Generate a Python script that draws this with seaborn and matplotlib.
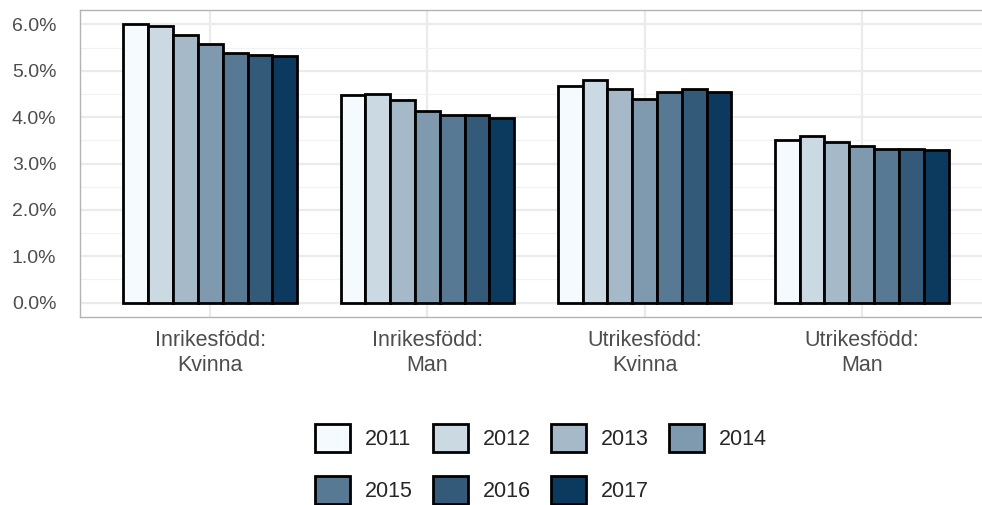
import matplotlib
matplotlib.use("Agg")
import matplotlib.pyplot as plt
import matplotlib.patches as mpatches
from matplotlib.ticker import MultipleLocator, FuncFormatter
import pandas as pd
import seaborn as sns

# === Data (andel, procent) ===
groups = ["Inrikesfödd:\nKvinna", "Inrikesfödd:\nMan", "Utrikesfödd:\nKvinna", "Utrikesfödd:\nMan"]
years = ["2011", "2012", "2013", "2014", "2015", "2016", "2017"]
inrikes_kvinna = [6.01, 5.97, 5.77, 5.58, 5.38, 5.33, 5.32]
inrikes_man = [4.48, 4.50, 4.37, 4.14, 4.05, 4.04, 3.98]
utrikes_kvinna = [4.67, 4.80, 4.60, 4.39, 4.55, 4.60, 4.54]
utrikes_man = [3.51, 3.60, 3.46, 3.38, 3.31, 3.31, 3.29]
colors = ["#F5FAFF", "#CBD9E2", "#A5B9C8", "#7F99AE", "#587994", "#335A79", "#0C3A5E"]

rows = []
for g, vals in zip(groups, [inrikes_kvinna, inrikes_man, utrikes_kvinna, utrikes_man]):
    for y, v in zip(years, vals):
        rows.append({"grupp": g, "ar": y, "andel": v})
df = pd.DataFrame(rows)

sns.set_style("white")
plt.rcParams["font.family"] = ["Liberation Sans", "DejaVu Sans"]

fig = plt.figure(figsize=(9.82, 5.05), dpi=100)
ax = fig.add_axes([80 / 982, (505 - 316.6) / 505, (992 - 80) / 982, (316.6 - 10) / 505])

sns.barplot(data=df, x="grupp", y="andel", hue="ar", order=groups, hue_order=years,
            palette=colors, saturation=1, edgecolor="black", linewidth=2, width=0.8,
            legend=False, ax=ax, zorder=3)

ax.set_xlim(-0.6, 3.6)
ax.set_ylim(-0.3, 6.31)
ax.yaxis.set_major_locator(MultipleLocator(1))
ax.yaxis.set_minor_locator(MultipleLocator(0.5))
ax.yaxis.set_major_formatter(FuncFormatter(lambda v, p: f"{v:.1f}%"))

# grid som i ggplot theme_minimal
ax.set_axisbelow(True)
ax.grid(True, which="major", axis="both", color="#EBEBEB", linewidth=1.6)
ax.grid(True, which="minor", axis="y", color="#F2F2F2", linewidth=0.9)
ax.tick_params(axis="both", which="major", length=6, width=1, color="#B3B3B3",
               labelcolor="#4D4D4D")
ax.tick_params(axis="y", which="major", pad=11, labelsize=14)
ax.tick_params(axis="x", which="major", pad=4, labelsize=15.5)
ax.tick_params(which="minor", length=0)
for s in ax.spines.values():
    s.set_visible(True)
    s.set_color("#B3B3B3")
    s.set_linewidth(1)

ax.set_xlabel("")
ax.set_ylabel("")

# === Legend (radvis ordning) ===
handles = [mpatches.Patch(facecolor=c, edgecolor="black", linewidth=2) for c in colors]
order = [0, 4, 1, 5, 2, 6, 3]
fig.legend([handles[i] for i in order], [years[i] for i in order], loc="center",
           bbox_to_anchor=(541 / 982, (505 - 464) / 505),
           ncol=4, frameon=False, fontsize=15.5, handlelength=1.6, handleheight=1.6,
           handletextpad=0.7, columnspacing=0.95, labelspacing=1.1, borderpad=0)

plt.savefig("out.png", dpi=100)
plt.close()
